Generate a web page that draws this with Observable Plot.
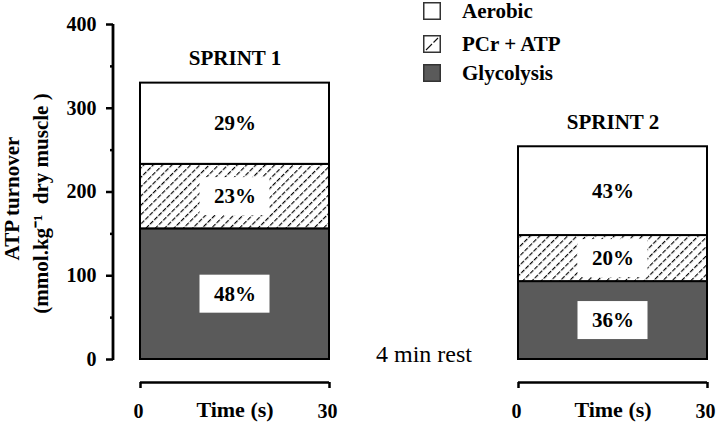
<!DOCTYPE html>
<html><head><meta charset="utf-8">
<script src="https://cdn.jsdelivr.net/npm/d3@7"></script>
<script src="https://cdn.jsdelivr.net/npm/@observablehq/plot@0.6"></script>
<style>
body{margin:0;background:#fff;}
#wrap{position:relative;width:716px;height:428px;font-family:"Liberation Serif","Times New Roman",serif;}
#legend{position:absolute;left:423px;top:0;font-weight:bold;font-size:21px;color:#000;z-index:2;}
.row{position:absolute;left:0;height:24px;display:flex;align-items:center;white-space:nowrap;}
.row svg{margin-right:21px;display:block;}
</style></head><body><div id="wrap"><div id="legend"></div></div>
<script>
// ---- data ----
const sprints = ["SPRINT 1", "SPRINT 2"];
const sprintStart = [0, 60];          // seconds on a shared time line (4 min rest compressed)
const sprintDuration = 30;
const sources = ["Glycolysis", "PCr + ATP", "Aerobic"];
const glycolysis = [156, 93];
const pcrAtp = [77, 55];
const aerobic = [97, 106];
const glycolysisPct = ["48%", "36%"];
const pcrAtpPct = ["23%", "20%"];
const aerobicPct = ["29%", "43%"];
const yTicks = [0, 100, 200, 300, 400];
const yMinorTicks = [50, 150, 250, 350];
const timeTicks = [0, 30];
const timeLabel = "Time (s)";
const restLabel = "4 min rest";
const yLabel1 = "ATP turnover";
const yLabel2 = "(mmol.kg\u207B\u00B9\u00A0 dry muscle )";
const legendOrder = ["Aerobic", "PCr + ATP", "Glycolysis"];
const sourceColors = ["#5a5a5a", "url(#hatch)", "#ffffff"];

// ---- derived tables ----
const values = {"Glycolysis": glycolysis, "PCr + ATP": pcrAtp, "Aerobic": aerobic};
const pcts = {"Glycolysis": glycolysisPct, "PCr + ATP": pcrAtpPct, "Aerobic": aerobicPct};
const segments = [];
const bars = [];
sprints.forEach((s, i) => {
  let base = 0;
  const x1 = sprintStart[i], x2 = sprintStart[i] + sprintDuration, xm = (x1 + x2) / 2;
  sources.forEach(src => {
    const v = values[src][i];
    segments.push({sprint: s, source: src, x1, x2, xm, y1: base, y2: base + v, mid: base + v / 2, label: pcts[src][i]});
    base += v;
  });
  bars.push({sprint: s, x1, x2, xm, total: base});
});
const timeTickValues = sprintStart.flatMap(s => timeTicks.map(t => s + t));
const restX = (sprintStart[0] + sprintDuration + sprintStart[1]) / 2;

const defsMark = () => {
  const defs = d3.create("svg:defs");
  const p = defs.append("pattern").attr("id", "hatch").attr("patternUnits", "userSpaceOnUse")
    .attr("width", 6.6).attr("height", 6).attr("patternTransform", "rotate(45)");
  p.append("rect").attr("width", 6.6).attr("height", 6).attr("fill", "#fff");
  p.append("line").attr("x1", 0.6).attr("y1", 0).attr("x2", 0.6).attr("y2", 6)
    .attr("stroke", "#000").attr("stroke-width", 1.15).attr("stroke-dasharray", "4.6,1.4");
  return defs.node();
};
const yAxisLine = (index, scales, vals, dims) => {
  return d3.create("svg:line")
    .attr("x1", dims.marginLeft).attr("x2", dims.marginLeft)
    .attr("y1", scales.y(yTicks[0]) + 1).attr("y2", scales.y(yTicks[yTicks.length - 1]))
    .attr("stroke", "#000").attr("stroke-width", 2.8).node();
};

const plot = Plot.plot({
  width: 716, height: 428,
  marginLeft: 113, marginRight: 9, marginTop: 24, marginBottom: 46,
  x: {domain: [0, 90], range: [140, 707], axis: null},
  y: {domain: [0, 400], range: [359, 24], axis: null},
  color: {domain: sources, range: sourceColors},
  style: {fontFamily: "'Liberation Serif', 'Times New Roman', serif", fontWeight: "bold", fontSize: "21px", color: "#000", background: "#fff", overflow: "visible"},
  marks: [
    defsMark,
    Plot.rect(segments, {x1: "x1", x2: "x2", y1: "y1", y2: "y2", fill: "source", stroke: "#000", strokeWidth: 2}),
    Plot.rect(segments, {x1: "xm", x2: "xm", y1: "mid", y2: "mid", fill: "#fff", insetLeft: -35, insetRight: -35, insetTop: -19, insetBottom: -19}),
    Plot.text(segments, {x: "xm", y: "mid", text: "label", fontSize: 21, fill: "#000"}),
    Plot.text(bars, {x: "xm", y: "total", text: "sprint", dy: -25, fontSize: 21, fill: "#000"}),
    Plot.axisY({ticks: yTicks, tickSize: 7, tickPadding: 10, strokeWidth: 2.5, fontSize: 20, label: null, tickFormat: d => d}),
    Plot.axisY({ticks: yMinorTicks, tickSize: 3, tickFormat: () => "", strokeWidth: 2.5, label: null}),
    yAxisLine,
    Plot.ruleY(bars, {x1: "x1", x2: "x2", y: 0, dy: 23, strokeWidth: 2.5, stroke: "#000"}),
    Plot.axisX({ticks: timeTickValues, tickSize: 6, tickFormat: () => "", strokeWidth: 2.5, label: null}),
    Plot.axisX({ticks: timeTickValues, tickSize: 0, tickPadding: 21, dx: -2, tickFormat: d => d % (sprintStart[1]), fontSize: 20, label: null}),
    Plot.text(bars, {x: "xm", text: () => timeLabel, frameAnchor: "bottom", dy: 34, fontSize: 22, fill: "#000"}),
    Plot.text([restLabel], {x: restX, y: 0, dy: -5, text: d => d, fontSize: 24, fontWeight: "normal", fill: "#000"}),
    Plot.text([yLabel1], {frameAnchor: "left", textAnchor: "middle", rotate: -90, dx: -101, dy: -5, text: d => d, fontSize: 21, fill: "#000"}),
    Plot.text([yLabel2], {frameAnchor: "left", textAnchor: "middle", rotate: -90, dx: -72, text: d => d, fontSize: 21, fill: "#000"})
  ]
});
document.getElementById("wrap").appendChild(plot);

// ---- legend ----
const legend = document.getElementById("legend");
const rowCenters = {"Aerobic": 11, "PCr + ATP": 44, "Glycolysis": 73};
legendOrder.forEach(name => {
  const row = document.createElement("div");
  row.className = "row";
  row.style.top = (rowCenters[name] - 12) + "px";
  const fill = sourceColors[sources.indexOf(name)];
  let inner = "";
  if (name === "PCr + ATP") {
    inner = `<rect x="0.75" y="0.75" width="16.5" height="16.5" fill="#fff" stroke="#333" stroke-width="1.5"/>
      <line x1="3" y1="15" x2="9" y2="9" stroke="#111" stroke-width="1.1"/>
      <line x1="10.5" y1="7.5" x2="15" y2="3" stroke="#111" stroke-width="1.1"/>`;
  } else {
    inner = `<rect x="0.75" y="0.75" width="16.5" height="16.5" fill="${fill}" stroke="#333" stroke-width="1.5"/>`;
  }
  row.innerHTML = `<svg width="18" height="18" viewBox="0 0 18 18">${inner}</svg><span>${name}</span>`;
  legend.appendChild(row);
});
</script>
</body></html>
